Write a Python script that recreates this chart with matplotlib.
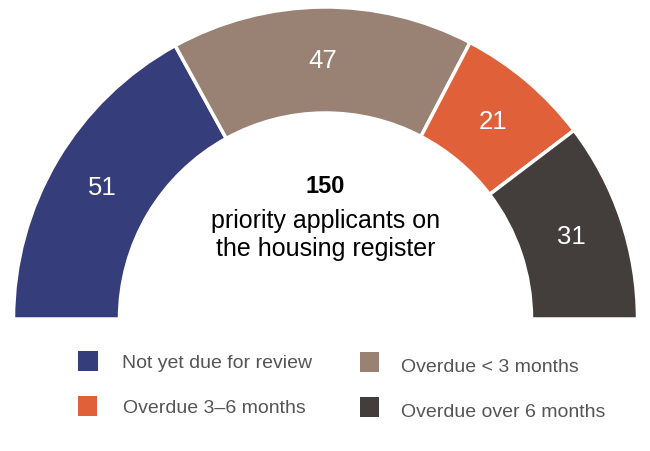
import matplotlib
matplotlib.use("Agg")
import matplotlib.pyplot as plt

plt.rcParams['font.family'] = ['Liberation Sans', 'DejaVu Sans']

categories = ["Not yet due for review", "Overdue < 3 months", "Overdue 3–6 months", "Overdue over 6 months"]
values = [51, 47, 21, 31]
colors = ["#353D7A", "#998273", "#E0603A", "#433D3C"]
total_label = "150"
centre_text = "priority applicants on\nthe housing register"

W, H = 650, 452
fig = plt.figure(figsize=(W / 100, H / 100), dpi=100)
ax = fig.add_axes([0, 0, 1, 1])

total = sum(values)
cx, cy = 325.5, H - 320
R_out, R_in = 312, 206

def fmt(p):
    v = p * (2 * total) / 100
    return "" if v > total - 0.5 else f"{round(v)}"

wedges, texts, autotexts = ax.pie(
    values + [total],
    colors=colors + ["none"],
    startangle=180,
    counterclock=False,
    radius=R_out,
    center=(cx, cy),
    autopct=fmt,
    pctdistance=((R_out + R_in) / 2) / R_out,
    wedgeprops=dict(width=R_out - R_in, edgecolor="white", linewidth=2.5),
    textprops=dict(color="white", fontsize=18.5),
)
wedges[-1].set_edgecolor("none")

ax.text(cx, H - 193, total_label, ha="center", va="baseline", fontsize=17, fontweight="bold", color="black")
lines = centre_text.split("\n")
ax.text(cx, H - 228, lines[0], ha="center", va="baseline", fontsize=18, color="black")
ax.text(cx, H - 256, lines[1], ha="center", va="baseline", fontsize=18, color="black")

# legend (manual)
leg_pos = [
    ((88, 362), (122, 368)),
    ((369.5, 363), (401, 372)),
    ((87.5, 407), (123, 413)),
    ((369.5, 408), (401, 417)),
]
for (sq, tx), cat, col in zip(leg_pos, categories, colors):
    ax.scatter([sq[0]], [H - sq[1]], marker="s", s=205, color=col, edgecolors="none")
    ax.text(tx[0], H - tx[1], cat, ha="left", va="baseline", fontsize=14, color="#555555")

ax.set_xlim(0, W)
ax.set_ylim(0, H)
ax.set_aspect("auto")
ax.axis("off")

fig.savefig("out.png", dpi=100)
